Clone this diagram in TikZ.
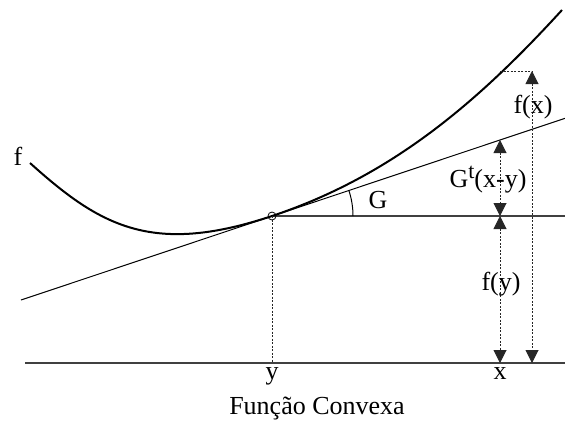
\documentclass[tikz,border=0pt]{standalone}
\usepackage{fontspec}
\setmainfont{Liberation Serif}
\usetikzlibrary{arrows.meta,angles}
\begin{document}
\begin{tikzpicture}[x=1pt,y=-1pt,
  lbl/.style={inner sep=0pt, anchor=base, font=\fontsize{26}{30}\selectfont},
  curveline/.style={line width=2pt, black},
  thinline/.style={line width=1pt, black},
  axisline/.style={line width=1.3pt, black!75},
  dashline/.style={line width=1pt, dash pattern=on 2pt off 1.5pt, black!85},
  dimarrow/.style={dashline, {Triangle[width=13pt,length=13pt]}-{Triangle[width=13pt,length=13pt]}}
]
\useasboundingbox (0,0) rectangle (565,421);
% coordinates
\coordinate (S) at (30,163);
\coordinate (T) at (272,216);
\coordinate (E) at (562,10);
\coordinate (TL) at (21,300);
\coordinate (TR) at (565,118.3);
\coordinate (HR) at (565,216);
\coordinate (BL) at (25,363);
\coordinate (BR) at (565,363);
\coordinate (Yb) at (272,363);
\coordinate (Xt) at (500,140);
\coordinate (Xm) at (500,216);
\coordinate (Xb) at (500,363);
\coordinate (Fc) at (500,71);
\coordinate (Ft) at (532,71);
\coordinate (Fb) at (532,363);
% lines
\draw[axisline] (BL) -- (BR);
\draw[axisline] (T) -- (HR);
\draw[thinline] (TL) -- (TR);
\draw[curveline] (S) .. controls (100,226) and (152,256) .. (T)
  .. controls (392,176) and (478,102) .. (E);
\pic[draw, thinline, angle radius=81pt] {angle = HR--T--TR};
\draw[dashline] (T) -- (Yb);
\draw[dashline] (Fc) -- (Ft);
\draw[dimarrow] (Xt) -- (Xm);
\draw[dimarrow] (Xm) -- (Xb);
\draw[dimarrow] (Ft) -- (Fb);
\draw[line width=0.8pt, black] (T) circle (4pt);
% labels
\node[lbl] (lf) at (18,165) {f};
\node[lbl] (lG) at (378,208) {G};
\node[lbl] (lGt) at (488,187) {G\raisebox{9pt}{\fontsize{22}{22}\selectfont t}(x-y)};
\node[lbl] (lfx) at (533,113) {f(x)};
\node[lbl] (lfy) at (501,290) {f(y)};
\node[lbl] (ly) at (272,379) {y};
\node[lbl] (lx) at (500,379) {x};
\node[lbl] (cap) at (317,414) {Função Convexa};
\end{tikzpicture}
\end{document}
